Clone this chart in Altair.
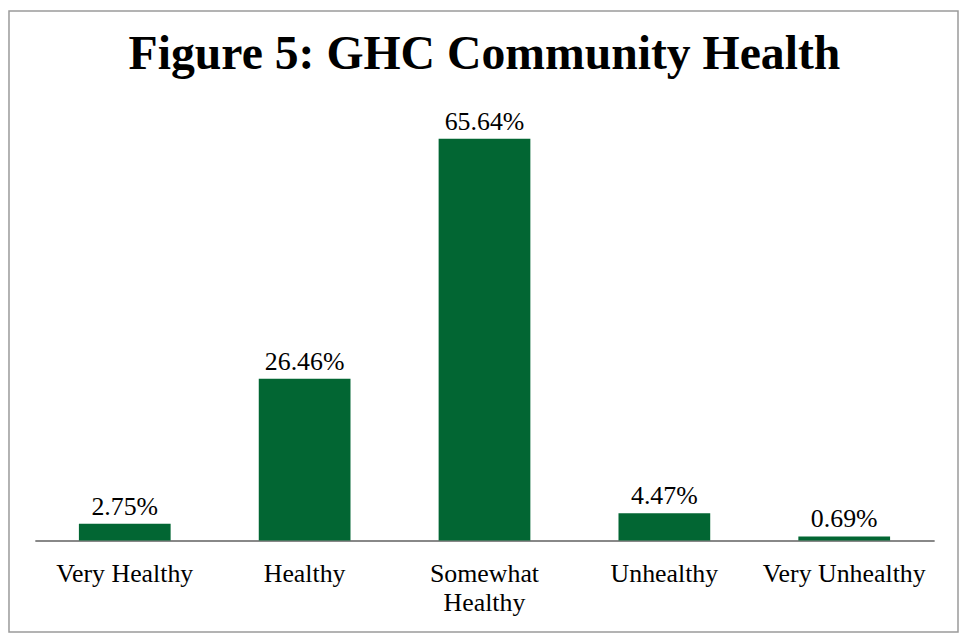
import altair as alt
import pandas as pd

categories = ["Very Healthy", "Healthy", "Somewhat Healthy", "Unhealthy", "Very Unhealthy"]
values = [2.75, 26.46, 65.64, 4.47, 0.69]
labels = ["2.75%", "26.46%", "65.64%", "4.47%", "0.69%"]
title_text = "Figure 5: GHC Community Health"

df = pd.DataFrame({"category": categories, "value": values, "label": labels})

FONT = "Liberation Serif"
GREEN = "#026633"

x = alt.X(
    "category:N",
    sort=categories,
    scale=alt.Scale(range=[26, 931], paddingInner=0.49, paddingOuter=0.245),
    axis=alt.Axis(
        title=None,
        orient="bottom",
        offset=-92,
        domainColor="#888888",
        domainWidth=2,
        ticks=False,
        tickSize=0,
        labelPadding=20,
        labelFont=FONT,
        labelFontSize=26,
        labelColor="black",
        labelAngle=0,
        labelLineHeight=29,
        labelExpr="datum.label == 'Somewhat Healthy' ? ['Somewhat', 'Healthy'] : datum.label",
    ),
)
y = alt.Y(
    "value:Q",
    scale=alt.Scale(domain=[0, 70], range=[533, 101.8], nice=False, zero=True),
    axis=None,
)

bars = alt.Chart(df).mark_bar(color=GREEN).encode(x=x, y=y)
texts = alt.Chart(df).mark_text(
    font=FONT, fontSize=26, color="black", baseline="alphabetic", align="center", dy=-9
).encode(x=x, y=y, text="label:N")

title = alt.Chart(pd.DataFrame({"t": [title_text]})).mark_text(
    font=FONT, fontSize=48, fontWeight="bold", color="black", baseline="alphabetic", align="center"
).encode(x=alt.value(478.5), y=alt.value(58), text="t:N")

chart = (
    alt.layer(bars, texts, title)
    .properties(
        width=955,
        height=625,
        autosize=alt.AutoSizeParams(type="none"),
        padding={"left": 1, "top": 1, "right": 1, "bottom": 1},
        background="white",
    )
    .configure_view(stroke="#9a9a9a", strokeWidth=1.5)
)

chart.save("out.html", embed_options={"renderer": "svg", "actions": False})
